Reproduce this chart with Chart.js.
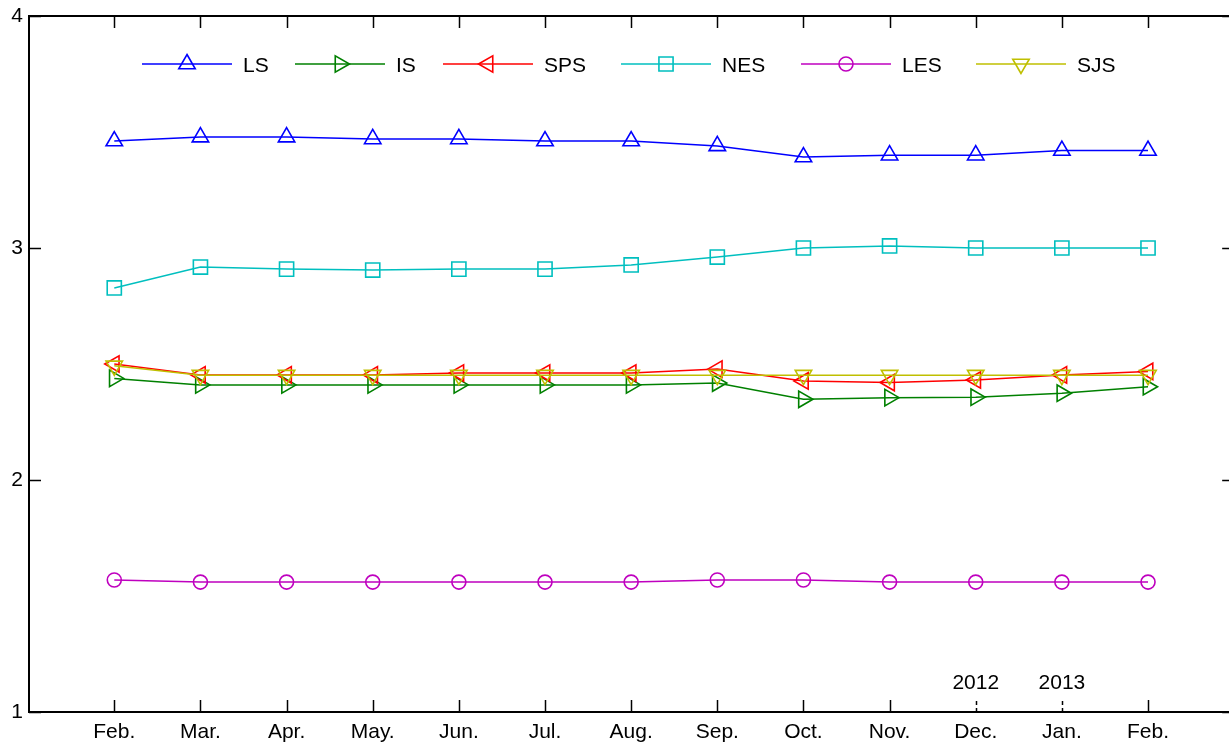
<!DOCTYPE html>
<html>
<head>
<meta charset="utf-8">
<script src="https://cdn.jsdelivr.net/npm/chart.js@4.4.0/dist/chart.umd.min.js"></script>
<style>
    html, body { margin: 0; padding: 0; overflow: hidden; background: #fff; }
    #chart { display: block; width: 1229px; height: 746px; }
</style>
</head>
<body>
<canvas id="chart" width="1229" height="746"></canvas>
<script>
const months = ['Feb.', 'Mar.', 'Apr.', 'May.', 'Jun.', 'Jul.', 'Aug.', 'Sep.', 'Oct.', 'Nov.', 'Dec.', 'Jan.', 'Feb.'];
const yearMarks = ['', '', '', '', '', '', '', '', '', '', '2012', '2013', ''];
const yTicks = [1, 2, 3, 4];

const ls = [3.461, 3.478, 3.478, 3.470, 3.470, 3.461, 3.461, 3.440, 3.392, 3.400, 3.400, 3.420, 3.420];
const is = [2.438, 2.410, 2.410, 2.410, 2.410, 2.410, 2.410, 2.418, 2.348, 2.355, 2.357, 2.374, 2.402];
const sps = [2.500, 2.453, 2.453, 2.453, 2.461, 2.461, 2.461, 2.478, 2.427, 2.420, 2.431, 2.453, 2.468];
const nes = [2.828, 2.918, 2.909, 2.905, 2.909, 2.909, 2.927, 2.961, 3.000, 3.009, 3.000, 3.000, 3.000];
const les = [1.569, 1.560, 1.560, 1.560, 1.560, 1.560, 1.560, 1.569, 1.569, 1.560, 1.560, 1.560, 1.560];
const sjs = [2.492, 2.452, 2.452, 2.452, 2.452, 2.452, 2.452, 2.452, 2.452, 2.452, 2.452, 2.452, 2.452];

const FONT = '"Liberation Sans", Arial, Helvetica, sans-serif';

// name, values, colour, marker, rotation, radius, legend start x
const series = [
    ['LS', ls, '#0000ff', 'triangle', 0, 9.5, 142],
    ['IS', is, '#008000', 'triangle', 90, 9.5, 295],
    ['SPS', sps, '#ff0000', 'triangle', -90, 9.5, 443],
    ['NES', nes, '#00bfbf', 'rect', 0, 10, 621],
    ['LES', les, '#bf00bf', 'circle', 0, 7, 801],
    ['SJS', sjs, '#bfbf00', 'triangle', 180, 9.5, 976],
];

const datasets = series.map(function (s, k) {
    return {
        label: s[0],
        data: s[1].map(function (v, i) {
            return { x: i + 1, y: v };
        }),
        borderColor: s[2],
        backgroundColor: 'rgba(0,0,0,0)',
        borderWidth: 1.5,
        pointStyle: s[3],
        rotation: s[4],
        pointRadius: s[5],
        pointBorderWidth: 1.6,
        pointBackgroundColor: 'rgba(0,0,0,0)',
        pointBorderColor: s[2],
        tension: 0,
        fill: false,
        order: series.length - k,
        legendX: s[6],
    };
});

// axes box (right side falls just past the window), inward ticks, year marks, legend
const frame = {
    id: 'frame',
    afterDraw(chart) {
        const ctx = chart.ctx;
        const a = chart.chartArea;
        const xs = chart.scales.x;
        const ys = chart.scales.y;
        const rightEdge = xs.getPixelForValue(14);
        ctx.save();
        ctx.strokeStyle = '#000';
        ctx.lineWidth = 2;
        ctx.beginPath();
        ctx.moveTo(a.right + 10, a.top);
        ctx.lineTo(a.left, a.top);
        ctx.lineTo(a.left, a.bottom);
        ctx.lineTo(a.right + 10, a.bottom);
        ctx.stroke();

        ctx.lineWidth = 1.5;
        months.forEach(function (m, i) {
            const px = Math.round(xs.getPixelForValue(i + 1)) + 0.5;
            ctx.setLineDash(yearMarks[i] ? [4, 3] : []);
            ctx.beginPath();
            ctx.moveTo(px, a.bottom);
            ctx.lineTo(px, a.bottom - 12);
            ctx.stroke();
            ctx.setLineDash([]);
            ctx.beginPath();
            ctx.moveTo(px, a.top);
            ctx.lineTo(px, a.top + 12);
            ctx.stroke();
        });
        yTicks.forEach(function (t) {
            const py = Math.round(ys.getPixelForValue(t)) + 0.5;
            ctx.beginPath();
            ctx.moveTo(a.left, py);
            ctx.lineTo(a.left + 12, py);
            ctx.moveTo(rightEdge, py);
            ctx.lineTo(rightEdge - 12, py);
            ctx.stroke();
        });

        ctx.fillStyle = '#000';
        ctx.font = '21px ' + FONT;
        ctx.textAlign = 'center';
        ctx.textBaseline = 'middle';
        yearMarks.forEach(function (y, i) {
            if (y) ctx.fillText(y, xs.getPixelForValue(i + 1), a.bottom - 29);
        });

        const ly = 64;
        chart.data.datasets.forEach(function (ds) {
            const x0 = ds.legendX;
            ctx.strokeStyle = ds.borderColor;
            ctx.lineWidth = 1.5;
            ctx.beginPath();
            ctx.moveTo(x0, ly);
            ctx.lineTo(x0 + 90, ly);
            ctx.stroke();
            ctx.lineWidth = 1.6;
            ctx.fillStyle = 'rgba(0,0,0,0)';
            Chart.helpers.drawPoint(ctx, {
                pointStyle: ds.pointStyle,
                rotation: ds.rotation,
                radius: ds.pointRadius,
                borderWidth: 1.6,
            }, x0 + 45, ly);
            ctx.fillStyle = '#000';
            ctx.textAlign = 'left';
            ctx.font = '21px ' + FONT;
            ctx.fillText(ds.label, x0 + 101, ly + 2);
        });
        ctx.restore();
    },
};

new Chart(document.getElementById('chart'), {
    type: 'line',
    data: { datasets },
    options: {
        responsive: false,
        animation: false,
        devicePixelRatio: 1,
        layout: { autoPadding: false, padding: { top: 16, right: 0, left: 0, bottom: 0 } },
        plugins: {
            legend: { display: false },
            tooltip: { enabled: false },
        },
        scales: {
            x: {
                type: 'linear',
                min: 0.01,
                max: 13.94,
                grid: { display: false, drawTicks: false },
                border: { display: false },
                afterFit: function (s) {
                    s.height = 34;
                    s.paddingLeft = 0;
                    s.paddingRight = 0;
                },
                afterBuildTicks: function (s) {
                    s.ticks = months.map(function (m, i) {
                        return { value: i + 1 };
                    });
                },
                ticks: {
                    autoSkip: false,
                    maxRotation: 0,
                    padding: 8,
                    color: '#000',
                    font: { family: FONT, size: 21 },
                    callback: function (v) {
                        return months[v - 1] || '';
                    },
                },
            },
            y: {
                min: 1,
                max: 4,
                grid: { display: false, drawTicks: false },
                border: { display: false },
                afterFit: function (s) {
                    s.width = 29;
                    s.paddingTop = 0;
                    s.paddingBottom = 0;
                },
                ticks: {
                    stepSize: 1,
                    padding: 6,
                    color: '#000',
                    font: { family: FONT, size: 21 },
                },
            },
        },
    },
    plugins: [frame],
});
</script>
</body>
</html>
